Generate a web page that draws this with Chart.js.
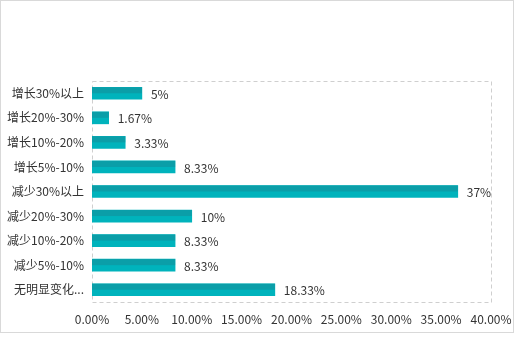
<!DOCTYPE html>
<html><head><meta charset="utf-8">
<script src="https://cdn.jsdelivr.net/npm/chart.js@4/dist/chart.umd.min.js"></script>
<style>
html,body{margin:0;padding:0;background:#fff;}
#wrap{position:relative;width:515px;height:343px;}
#frame{position:absolute;left:0;top:0;width:512px;height:331px;border:1px solid #d9d9d9;pointer-events:none;}
canvas{position:absolute;left:0;top:0;}
</style></head>
<body><div id="wrap"><canvas id="c" width="515" height="343"></canvas><div id="frame"></div></div>
<script>
const categories = ["增长30%以上","增长20%-30%","增长10%-20%","增长5%-10%","减少30%以上","减少20%-30%","减少10%-20%","减少5%-10%","无明显变化..."];
const values = [5, 1.67, 3.33, 8.33, 36.67, 10, 8.33, 8.33, 18.33];
const valueLabels = ["5%","1.67%","3.33%","8.33%","37%","10%","8.33%","8.33%","18.33%"];
const axisMin = 0, axisMax = 40, axisStep = 5;

const FONT = "'Noto Sans CJK SC', 'Noto Sans', sans-serif";

const twoTone = {
  id:'twoTone',
  afterDatasetsDraw(chart){
    const ctx = chart.ctx;
    const meta = chart.getDatasetMeta(0);
    ctx.save();
    ctx.fillStyle = '#0b9ea8';
    meta.data.forEach(el=>{
      const top = el.y - el.height/2;
      const left = Math.min(el.base, el.x);
      const w = Math.abs(el.x - el.base);
      ctx.fillRect(left, top, w, el.height/2);
    });
    ctx.fillStyle = '#333';
    ctx.font = '12px ' + FONT;
    ctx.textBaseline = 'middle';
    ctx.textAlign = 'left';
    meta.data.forEach((el,i)=>{
      ctx.fillText(valueLabels[i], el.x + 9, el.y + 1);
    });
    ctx.restore();
  }
};
const dashBox = {
  id:'dashBox',
  beforeDatasetsDraw(chart){
    const a = chart.chartArea, ctx = chart.ctx;
    ctx.save();
    ctx.strokeStyle = '#cfcfcf';
    ctx.lineWidth = 1;
    ctx.setLineDash([4,3]);
    ctx.strokeRect(Math.round(a.left)+0.5, Math.round(a.top)+0.5, Math.round(a.right-a.left), Math.round(a.bottom-a.top));
    ctx.restore();
  }
};

new Chart(document.getElementById('c'), {
  type:'bar',
  data:{labels:categories, datasets:[{data:values, backgroundColor:'#00b3bc', barThickness:12, borderWidth:0}]},
  options:{
    indexAxis:'y',
    responsive:false,
    animation:false,
    devicePixelRatio:1,
    layout:{padding:{top:81,right:24,left:0,bottom:0}},
    plugins:{legend:{display:false},tooltip:{enabled:false}},
    scales:{
      x:{min:axisMin,max:axisMax,
        grid:{display:false,drawTicks:false},
        border:{display:false},
        afterFit(s){s.height=41;s.paddingRight=0;s.paddingLeft=0;},
        ticks:{stepSize:axisStep,color:'#333',padding:10,font:{size:12,family:FONT},
          callback:(v)=>Number(v).toFixed(2)+'%'}},
      y:{grid:{display:false,drawTicks:false},
        border:{display:false},
        afterFit(s){s.width=92;s.paddingTop=0;s.paddingBottom=0;},
        ticks:{color:'#333',padding:8,font:{size:12,family:FONT}}}
    }
  },
  plugins:[dashBox,twoTone]
});
</script></body></html>
